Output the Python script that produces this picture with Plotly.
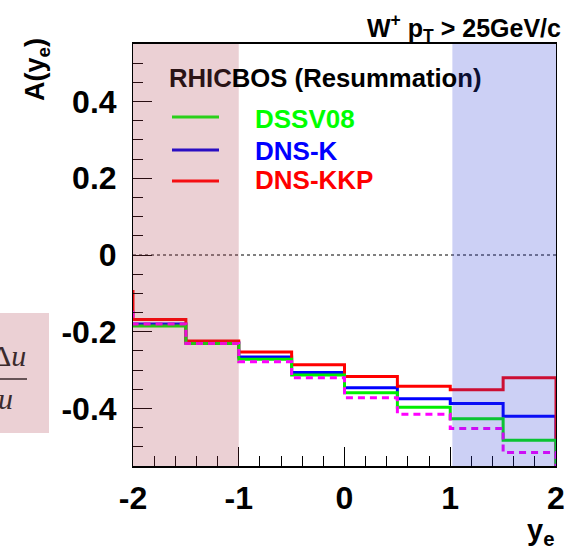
import plotly.graph_objects as go

# ---- data ----
bin_edges = [-2.0, -1.5, -1.0, -0.5, 0.0, 0.5, 1.0, 1.5, 2.0]
dssv08 = [-0.185, -0.231, -0.272, -0.313, -0.359, -0.397, -0.427, -0.483]
dns_k = [-0.180, -0.228, -0.266, -0.306, -0.346, -0.375, -0.387, -0.420]
dns_kkp = [-0.168, -0.224, -0.253, -0.286, -0.317, -0.342, -0.351, -0.320]
dashed_series = [-0.180, -0.231, -0.278, -0.320, -0.372, -0.415, -0.452, -0.515]
start_values = {"DSSV08": -0.185, "DNS-K": -0.180, "DNS-KKP": -0.091, "dashed": -0.145}
x_tick_vals = [-2, -1, 0, 1, 2]
x_tick_text = ["-2", "-1", "0", "1", "2"]
y_tick_vals = [-0.4, -0.2, 0, 0.2, 0.4]
y_tick_text = ["-0.4", "-0.2", "0", "0.2", "0.4"]
y_range = [-0.55, 0.55]

W, H = 567, 549
L, R, T, B = 133, 556, 44, 466


def xp(px):
    return (px - L) / (R - L)


def yp(py):
    return (B - py) / (B - T)


def step_path(vals, start):
    xs = [bin_edges[0]] + bin_edges[:-1] + [bin_edges[-1], bin_edges[-1]]
    ys = [start] + vals + [vals[-1], -0.7]
    return xs, ys


fig = go.Figure()

series = [
    ("DNS-K", dns_k, "#0000ff", "solid"),
    ("DNS-KKP", dns_kkp, "#ff0000", "solid"),
    ("DSSV08", dssv08, "#00ee00", "solid"),
    ("dashed", dashed_series, "#ff00ff", "dash"),
]
for name, vals, col, dash in series:
    xs, ys = step_path(vals, start_values[name])
    fig.add_trace(go.Scatter(
        x=xs, y=ys, mode="lines", line_shape="hv",
        line=dict(color=col, width=3, dash="7px,5px" if dash == "dash" else "solid"),
        showlegend=False, hoverinfo="skip"))

# zero dotted line
fig.add_shape(type="line", xref="x", yref="y", x0=-2, x1=2, y0=0, y1=0,
              line=dict(color="black", width=1, dash="dot"), layer="below")

pink = "rgba(172,59,76,0.24)"
blue = "rgba(42,59,213,0.24)"
fig.add_shape(type="rect", xref="x", yref="paper", x0=-2, x1=-1, y0=0, y1=1,
              fillcolor=pink, line=dict(width=0), layer="above")
fig.add_shape(type="rect", xref="x", yref="paper", x0=1.02, x1=2, y0=0, y1=1,
              fillcolor=blue, line=dict(width=0), layer="above")
# left partial box
fig.add_shape(type="rect", xref="paper", yref="paper", x0=xp(-5), x1=xp(49), y0=yp(433), y1=yp(313),
              fillcolor=pink, line=dict(width=0), layer="above")
fig.add_shape(type="line", xref="paper", yref="paper", x0=xp(-5), x1=xp(27), y0=yp(379), y1=yp(379),
              line=dict(color="#3a2a2c", width=1.5), layer="above")

bold = dict(family="Liberation Sans, Arial, sans-serif", weight="bold")
ann = []


def A(text, x, y, size, color="black", xanchor="center", yanchor="middle", angle=0, family=None, weight="bold"):
    f = dict(family=family or bold["family"], size=size, color=color, weight=weight)
    ann.append(dict(text=text, x=xp(x), y=yp(y), xref="paper", yref="paper", showarrow=False,
                    xanchor=xanchor, yanchor=yanchor, textangle=angle, font=f))


A("W<sup>+</sup> p<sub>T</sub> > 25GeV/c", 563, 28, 25, xanchor="right")
A("A(y<sub>e</sub>)", 37, 70, 27, angle=-90)
A("y<sub>e</sub>", 540, 532, 29)
A('<span style="color:#2b1416">RHIC</span>BOS (Resummatio<span style="color:#0a0f33">n)</span>',
  167, 78, 25.7, xanchor="left")
A("DSSV08", 253, 119, 26, color="#00ff00", xanchor="left")
A("DNS-K", 253, 151, 26, color="#0000ff", xanchor="left")
A("DNS-KKP", 253, 180, 26, color="#ff0000", xanchor="left")
A("Δ<i>u</i>", 28, 355, 30, color="#3a2a2c", xanchor="right",
  family="Liberation Serif, serif", weight="normal")
A("<i>u</i>", 15, 398, 30, color="#3a2a2c", xanchor="right",
  family="Liberation Serif, serif", weight="normal")
fig.update_layout(annotations=ann)

# legend samples (inside pink region -> blended colours)
for py, col in [(117, "#2ad01a"), (150, "#2a0ec2"), (181, "#f50e12")]:
    fig.add_shape(type="line", xref="paper", yref="paper", x0=xp(172), x1=xp(219), y0=yp(py), y1=yp(py),
                  line=dict(color=col, width=3))

fig.update_layout(
    width=W, height=H,
    margin=dict(l=L, r=W - R, t=T, b=H - B),
    plot_bgcolor="white", paper_bgcolor="white",
    showlegend=False,
)
fig.update_xaxes(range=[-2, 2], tickvals=x_tick_vals, ticktext=x_tick_text,
                 ticks="inside", ticklen=19, tickwidth=1, tickcolor="black",
                 minor=dict(tickmode="linear", tick0=-2, dtick=0.2, ticks="inside", ticklen=10,
                            tickcolor="black", tickwidth=1),
                 showline=True, linecolor="black", linewidth=1.5, mirror=True,
                 showgrid=False, zeroline=False, automargin=False,
                 tickfont=dict(size=32, color="black", **bold), ticklabelstandoff=3)
fig.update_yaxes(range=y_range, tickvals=y_tick_vals, ticktext=y_tick_text,
                 ticks="inside", ticklen=19, tickwidth=1, tickcolor="black",
                 minor=dict(tickmode="linear", tick0=0, dtick=0.05, ticks="inside", ticklen=10,
                            tickcolor="black", tickwidth=1),
                 showline=True, linecolor="black", linewidth=1, mirror=True,
                 showgrid=False, zeroline=False, automargin=False,
                 tickfont=dict(size=32, color="black", **bold), ticklabelstandoff=9)

fig.write_html("out.html", config={"displayModeBar": False},
               post_script="document.body.style.margin='0';")
